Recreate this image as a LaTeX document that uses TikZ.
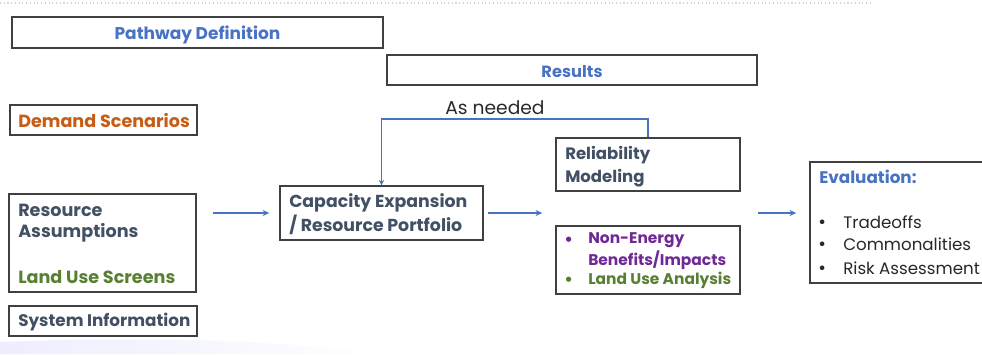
\documentclass[tikz,border=0pt]{standalone}
\usepackage{fontspec}
\setmainfont{Poppins}
\usetikzlibrary{arrows.meta,fit}
\definecolor{boxgray}{RGB}{64,64,64}
\definecolor{tblue}{RGB}{72,114,196}
\definecolor{torange}{RGB}{200,92,20}
\definecolor{tgreen}{RGB}{88,128,50}
\definecolor{tpurple}{RGB}{112,40,150}
\definecolor{tdark}{RGB}{66,80,100}
\definecolor{ttext}{RGB}{40,40,40}
\begin{document}
\begin{tikzpicture}[x=0.75pt,y=-0.75pt,
  box/.style={draw=boxgray, line width=1.1pt, fill=white, inner sep=0pt},
  bl/.style={font=\bfseries\fontsize{#1}{#1}\selectfont, inner sep=0pt, anchor=west, align=left},
  nl/.style={font=\fontsize{#1}{#1}\selectfont, inner sep=0pt, anchor=west, text=ttext},
  arr/.style={draw=tblue, line width=1.2pt, -{Stealth[length=5pt,width=4.5pt]}}]
\useasboundingbox (0,0) rectangle (982,354);
\clip (0,0) rectangle (982,354);
% decorative
\draw[gray!35, line width=0.8pt, dotted] (0,3) -- (872,3);
\shade[left color=blue!7, right color=white, draw=none]
  (0,354) -- (0,342) .. controls (150,336) and (280,340) .. (380,354) -- cycle;
% boxes
\node[box, fit={(12,17) (383,48)}] (pd) {};
\node[bl=12.75, anchor=center, text=tblue] at ([yshift=-1.5pt]pd.center) {Pathway Definition};
\node[box, fit={(387,55) (757,85)}] (res) {};
\node[bl=12.2, anchor=center, text=tblue] at ([yshift=-1.5pt]res.center) {Results};
\node[box, fit={(10,105) (197,135)}] (ds) {};
\node[bl=13.2, text=torange] at (18,121) {Demand Scenarios};
\node[box, fit={(9,194) (196,292)}] (ra) {};
\node[bl=13.2, text=tdark] at (18,210) {Resource};
\node[bl=13.2, text=tdark] at (18,233) {Assumptions};
\node[bl=13.2, text=tgreen] at (18,277) {Land Use Screens};
\node[box, fit={(9,306) (197,336)}] (si) {};
\node[bl=12.6, text=tdark] at (18,322) {System Information};
\node[box, fit={(280,186) (483,240)}] (cap) {};
\node[bl=13, text=tdark] at (289,203) {Capacity Expansion};
\node[bl=13, text=tdark] at (289,225) {/ Resource Portfolio};
\node[box, fit={(556,138) (740,191)}] (rel) {};
\node[bl=12.4, text=tdark] at (565,155) {Reliability};
\node[bl=12.4, text=tdark] at (565,178) {Modeling};
\node[box, fit={(556,226) (740,294)}] (ne) {};
\node[bl=13, text=tpurple] at (564,241) {•};
\node[bl=11.6, text=tpurple] at (588,240) {Non-Energy};
\node[bl=11.6, text=tpurple] at (588,260) {Benefits/Impacts};
\node[bl=13, text=tgreen] at (564,281) {•};
\node[bl=11.6, text=tgreen] at (588,280) {Land Use Analysis};
\node[box, fit={(810,162) (992,283)}] (ev) {};
\node[bl=12.6, text=tblue] at (819,177) {Evaluation:};
\node[nl=14] at (818,224) {•};
\node[nl=12.5] at (843,222) {Tradeoffs};
\node[nl=14] at (818,246) {•};
\node[nl=12.5] at (843,244) {Commonalities};
\node[nl=14] at (818,270) {•};
\node[nl=12.5] at (843,268) {Risk Assessment};
% connectors
\draw[arr, shorten <=12pt, shorten >=7.5pt] (ra.east |- cap.west) -- (cap.west);
\draw[arr, shorten <=3pt, shorten >=9.75pt] (cap.east) -- (cap.east -| rel.west);
\draw[arr, shorten <=12.75pt, shorten >=9.75pt] (cap.east -| rel.east) -- (cap.east -| ev.west);
\draw[arr, -{Stealth[length=4pt,width=4pt]}] (rel.north) -- ++(0,-18) -| (cap.north);
\node[nl=14, anchor=center] (asn) at (495,108) {As needed};
\end{tikzpicture}
\end{document}
